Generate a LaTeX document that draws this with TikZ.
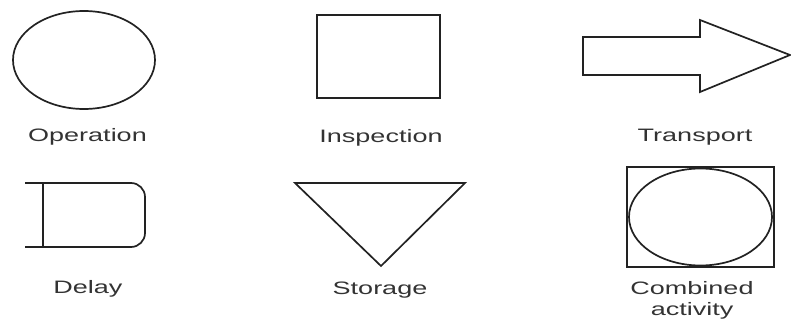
\documentclass[tikz,border=0pt]{standalone}
\usepackage{fontspec}
\setmainfont{Liberation Sans}
\usepackage{graphicx}
\definecolor{ink}{HTML}{222222}
\definecolor{txt}{HTML}{333333}
\begin{document}
\begin{tikzpicture}[x=1pt,y=-1pt,
  shapeline/.style={draw=ink,line width=1.7pt,line join=miter},
  lbl/.style={text=txt,font=\fontsize{18}{21}\selectfont,anchor=base,inner sep=0pt,align=center}]
\useasboundingbox (0,0) rectangle (791,320);
\newcommand{\wide}[1]{\scalebox{1.5}[1]{#1}}
% Operation
\draw[shapeline] (84,60) ellipse [x radius=71,y radius=49];
\node[lbl] (opl) at (87.5,142) {\wide{Operation}};
% Inspection
\draw[shapeline] (317,15) rectangle (440,98);
\node[lbl] (insl) at (381,143) {\wide{Inspection}};
% Transport
\draw[shapeline] (583,37) -- (700,37) -- (700,20) -- (790,55) -- (700,92) -- (700,75) -- (583,75) -- cycle;
\node[lbl] (trl) at (695,142) {\wide{Transport}};
% Delay
\draw[shapeline,rounded corners=14pt] (25,183) -- (145,183) -- (145,247) -- (25,247);
\draw[shapeline] (43,183) -- (43,247);
\node[lbl] (dell) at (88,293) {\wide{Delay}};
% Storage
\draw[shapeline] (295,183) -- (465,183) -- (381,266) -- cycle;
\node[lbl] (stl) at (380,294) {\wide{Storage}};
% Combined activity
\draw[shapeline] (627,167) rectangle (774,267);
\draw[shapeline] (700.5,217) ellipse [x radius=71.5,y radius=48.5];
\node[lbl] (cal) at (692,294) {\wide{Combined}};
\node[lbl] (ca2) at (692,315) {\wide{activity}};
\end{tikzpicture}
\end{document}
